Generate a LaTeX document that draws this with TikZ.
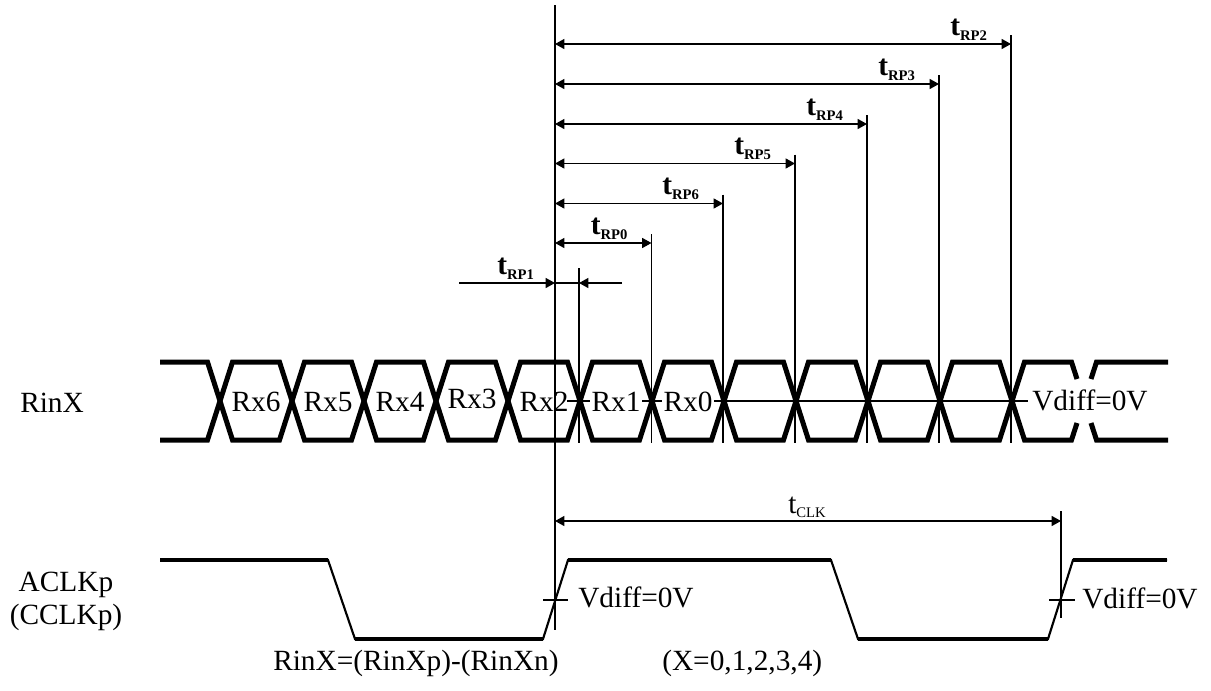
\documentclass[tikz,border=0pt]{standalone}
\usepackage{fontspec}
\setmainfont{Liberation Serif}
\usetikzlibrary{arrows.meta}
\begin{document}
\begin{tikzpicture}[x=0.75pt,y=-0.75pt,
  lbl/.style={font=\fontsize{22}{26}\selectfont, inner sep=0pt, anchor=base west},
  cell/.style={font=\fontsize{22}{26}\selectfont, inner sep=0pt, anchor=base},
  tlbl/.style={font=\fontsize{22}{26}\selectfont\bfseries, inner sep=0pt, anchor=base west},
  thinl/.style={line width=0.8pt},
  tip/.tip={Triangle[length=7pt,width=7.5pt]},
  dim/.style={line width=0.9pt, tip-tip},
  data/.style={line width=3.75pt, line join=miter},
  clk/.style={line width=1.6pt, line join=miter},
  clkh/.style={line width=2.4pt}]
\useasboundingbox (0,0) rectangle (1211,690);

% left labels
\node[lbl] (rinx) at (20,412) {RinX};
\node[cell] (aclk) at (66,591) {ACLKp};
\node[cell] (cclk) at (66,624) {(CCLKp)};

% midline of the data eye
\coordinate (m0) at (567,401);
\coordinate (m1) at (1028,401);
\draw[thinl] (m0) -- (m1);

% cell labels
\node[cell] (rx6) at (256,411.5) {Rx6};
\node[cell] (rx5) at (328,411.5) {Rx5};
\node[cell] (rx4) at (400,411.5) {Rx4};
\node[cell] (rx3) at (472,408) {Rx3};
\node[cell] (rx2) at (544,411.5) {Rx2};
\node[cell, fill=white, inner xsep=1pt] (rx1) at (616,411.5) {Rx1};
\node[cell, fill=white, inner xsep=1pt] (rx0) at (688,411.5) {Rx0};
\node[lbl] (vd1) at (1032,410) {Vdiff=0V};

% data signal
\draw[data] (160,362) -- (207.5,362) -- (220,401) -- (207.5,440) -- (160,440);
\foreach \c in {220,292,...,940} {
  \draw[data] (\c,401) -- (\c+12.5,362) -- (\c+59.5,362) -- (\c+72,401)
     -- (\c+59.5,440) -- (\c+12.5,440) -- cycle;
}
\draw[data] (1077,379) -- (1071.5,362) -- (1024.5,362) -- (1012,401)
   -- (1024.5,440) -- (1071.5,440) -- (1077,423);
\draw[data] (1091,379) -- (1096.5,362) -- (1168,362);
\draw[data] (1091,423) -- (1096.5,440) -- (1168,440);

% main reference line
\coordinate (mtop) at (555,5);
\coordinate (mbot) at (555,630);
\draw[thinl] (mtop) -- (mbot);

% tRP arrows
\foreach \xe/\ya/\nm in {1011/44/2, 939/84/3, 867/124/4, 795/163.5/5, 723/203.5/6, 651.5/243/0} {
  \coordinate (e\nm) at (\xe,\ya);
  \coordinate (s\nm) at (555,\ya);
  \coordinate (vt\nm) at (\xe,\ya-9);
  \coordinate (vb\nm) at (\xe,443);
  \draw[thinl] (vt\nm) -- (vb\nm);
  \draw[dim] (s\nm) -- (e\nm);
  \node[tlbl] (t\nm) at (\xe-61,\ya-9) {t\raisebox{-3.75pt}{\fontsize{11}{12}\selectfont RP\nm}};
}

% tRP1
\coordinate (v1t) at (579,268);
\coordinate (v1b) at (579,443);
\draw[thinl] (v1t) -- (v1b);
\coordinate (p1a) at (459,283);
\coordinate (p1b) at (555,283);
\coordinate (p1c) at (579,283);
\coordinate (p1d) at (622,283);
\draw[line width=0.9pt, -tip] (p1a) -- (p1b);
\draw[thinl] (p1b) -- (p1c);
\draw[line width=0.9pt, -tip] (p1d) -- (p1c);
\node[tlbl] (t1) at (497,274) {t\raisebox{-3.75pt}{\fontsize{11}{12}\selectfont RP1}};

% tCLK
\coordinate (cka) at (555,521);
\coordinate (ckb) at (1061,521);
\coordinate (ckt) at (1061,511);
\coordinate (ckbot) at (1061,618);
\draw[thinl] (ckt) -- (ckbot);
\draw[dim] (cka) -- (ckb);
\node[font=\fontsize{22}{26}\selectfont, inner sep=0pt, anchor=base] (tclk) at (807,513) {t\raisebox{-3pt}{\fontsize{11}{12}\selectfont CLK}};

% clock signal
\draw[clk] (160,560) -- (328,560) -- (355,639) -- (543,639) -- (568,560) -- (831,560)
  -- (858,639) -- (1048,639) -- (1073,560) -- (1167,560);
\draw[clkh] (160,560) -- (328,560);
\draw[clkh] (355,639) -- (543,639);
\draw[clkh] (568,560) -- (831,560);
\draw[clkh] (858,639) -- (1048,639);
\draw[clkh] (1073,560) -- (1167,560);

% crossing ticks
\coordinate (k1a) at (543,600);
\coordinate (k1b) at (568,600);
\draw[thinl] (k1a) -- (k1b);
\coordinate (k2a) at (1049,600);
\coordinate (k2b) at (1075,600);
\draw[thinl] (k2a) -- (k2b);
\node[lbl] (vd2) at (578,607) {Vdiff=0V};
\node[lbl] (vd3) at (1082,608) {Vdiff=0V};

% bottom notes
\node[lbl] (eq) at (273,670) {RinX=(RinXp)-(RinXn)};
\node[lbl] (xr) at (662,670) {(X=0,1,2,3,4)};
\end{tikzpicture}
\end{document}
